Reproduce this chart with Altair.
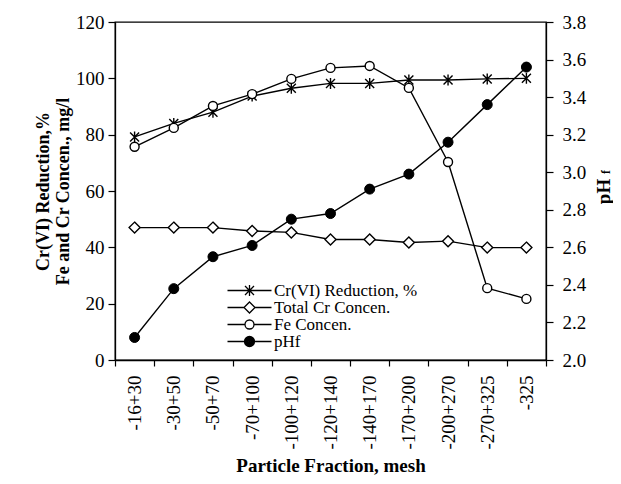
import altair as alt
import pandas as pd

fractions = ["-16+30", "-30+50", "-50+70", "-70+100", "-100+120", "-120+140",
             "-140+170", "-170+200", "-200+270", "-270+325", "-325"]
cr_reduction = [79.2, 84.0, 88.0, 93.7, 96.5, 98.2, 98.2, 99.4, 99.4, 99.8, 100.0]
total_cr = [47.0, 47.0, 47.0, 45.8, 45.3, 42.8, 42.8, 41.7, 42.2, 39.9, 39.9]
fe_conc = [75.7, 82.4, 90.2, 94.4, 99.8, 103.7, 104.4, 96.6, 70.3, 25.5, 21.7]
ph_f = [2.12, 2.38, 2.55, 2.61, 2.75, 2.78, 2.91, 2.99, 3.16, 3.36, 3.56]
series_names = ["Cr(VI) Reduction, %", "Total Cr Concen.", "Fe Concen.", "pHf"]
left_ticks = [0, 20, 40, 60, 80, 100, 120]
right_ticks = [2.0, 2.2, 2.4, 2.6, 2.8, 3.0, 3.2, 3.4, 3.6, 3.8]

rows = []
for name, vals in zip(series_names, [cr_reduction, total_cr, fe_conc, ph_f]):
    for f, v in zip(fractions, vals):
        rows.append({"fraction": f, "series": name, "value": v})
df = pd.DataFrame(rows)
left_names = series_names[:3]

FONT = "Liberation Serif"


def circ(r):
    return f"M{r},0A{r},{r} 0 1,1 -{r},0A{r},{r} 0 1,1 {r},0Z"


AST = "M0,-1.1V1.1M-0.9,-0.9L0.9,0.9M-0.9,0.9L0.9,-0.9"
DIA = "M0,-1.1L1.1,0L0,1.1L-1.1,0Z"
marker_paths = [AST, DIA, circ(0.9)]
# filled-looking dot made of concentric rings (legend symbols share one fill colour)
DOT = circ(1.0) + circ(0.75) + circ(0.5) + circ(0.25) + "M-0.1,0H0.1"
legend_paths = [
    "M-4.4,0H4.4" + AST,
    "M-4.4,0H-1.1M1.1,0H4.4" + DIA,
    "M-4.4,0H-0.9M0.9,0H4.4" + circ(0.9),
    "M-4.4,0H-1M1,0H4.4" + DOT,
]
fills = ["white", "white", "white"]

x_enc = alt.X(
    "fraction:N", sort=fractions,
    scale=alt.Scale(type="band", paddingInner=0, paddingOuter=0),
    axis=alt.Axis(title="Particle Fraction, mesh", tickBand="extent", labelAngle=270,
                  labelAlign="right", labelBaseline="middle", labelPadding=9, tickSize=6,
                  titleFontSize=19, titleY=105, titleBaseline="middle"),
)

y_left = alt.Y(
    "value:Q", scale=alt.Scale(domain=[0, 120]),
    axis=alt.Axis(values=left_ticks, title=["Cr(VI) Reduction,%", "Fe and Cr Concen., mg/l"],
                  tickSize=7, labelPadding=4, titleAngle=270, titleX=-72, titleY=169,
                  titleAlign="center", titleBaseline="middle", titleLineHeight=20),
)
y_right = alt.Y(
    "value:Q", scale=alt.Scale(domain=[2.0, 3.8]),
    axis=alt.Axis(values=right_ticks, format=".1f", orient="right", title="pH",
                  tickSize=7, labelPadding=9, titleAngle=270, titleX=57, titleY=169,
                  titleAlign="center", titleBaseline="middle", titleFontSize=19),
)

base_left = alt.Chart(df).transform_filter(
    alt.FieldOneOfPredicate(field="series", oneOf=left_names))

line_left = base_left.mark_line(color="black", strokeWidth=1.4).encode(
    x=x_enc, y=y_left, detail="series:N")

pts_left = base_left.mark_point(filled=True, stroke="black", strokeWidth=1.4,
                                size=100, opacity=1).encode(
    x=x_enc, y=y_left,
    shape=alt.Shape("series:N", scale=alt.Scale(domain=left_names, range=marker_paths),
                    legend=None),
    fill=alt.Fill("series:N", scale=alt.Scale(domain=left_names, range=fills),
                  legend=None),
)

# legend-only layer: no rows are drawn, the legend comes from the explicit domain
legend_layer = alt.Chart(df).transform_filter("false").mark_point(
    filled=False, stroke="black", strokeWidth=1.3, size=100).encode(
    x=x_enc, y=y_left,
    shape=alt.Shape("series:N", scale=alt.Scale(domain=series_names, range=legend_paths),
                    legend=alt.Legend(
                        title=None, orient="none", legendX=126, legendY=260,
                        symbolSize=100, labelOffset=16, labelFont=FONT,
                        labelFontSize=17, labelColor="black", symbolOpacity=1,
                        symbolStrokeColor="black", symbolFillColor="white",
                        symbolStrokeWidth=1.3, rowPadding=-8)),
)

left = alt.layer(line_left, pts_left, legend_layer).resolve_scale(
    shape="independent", fill="independent")

base_ph = alt.Chart(df).transform_filter(alt.datum.series == "pHf")
line_ph = base_ph.mark_line(color="black", strokeWidth=1.4).encode(x=x_enc, y=y_right)
pts_ph = base_ph.mark_point(filled=True, fill="black", stroke="black", strokeWidth=1,
                            size=100, shape=circ(1.0), opacity=1).encode(x=x_enc, y=y_right)
sub_f = alt.Chart(pd.DataFrame({"t": ["f"]})).mark_text(
    font=FONT, fontSize=12, fontWeight="bold", angle=270, color="black",
    align="center", baseline="middle").encode(
    text="t:N", x=alt.value(491), y=alt.value(150))

right = alt.layer(line_ph, pts_ph, sub_f)

chart = alt.layer(left, right).resolve_scale(y="independent").properties(
    width=431, height=338,
    padding={"left": 107, "top": 14, "right": 67, "bottom": 116},
    autosize=alt.AutoSizeParams(type="none"),
    background="white",
).configure_view(stroke="black", strokeWidth=1.3).configure_axis(
    labelFont=FONT, labelFontSize=19, labelColor="black",
    titleFont=FONT, titleFontSize=18, titleFontWeight="bold", titleColor="black",
    domainColor="black", tickColor="black", domainWidth=1.3, tickWidth=1.2, grid=False,
)

chart.save("out.html", embed_options={"renderer": "svg", "actions": False})
